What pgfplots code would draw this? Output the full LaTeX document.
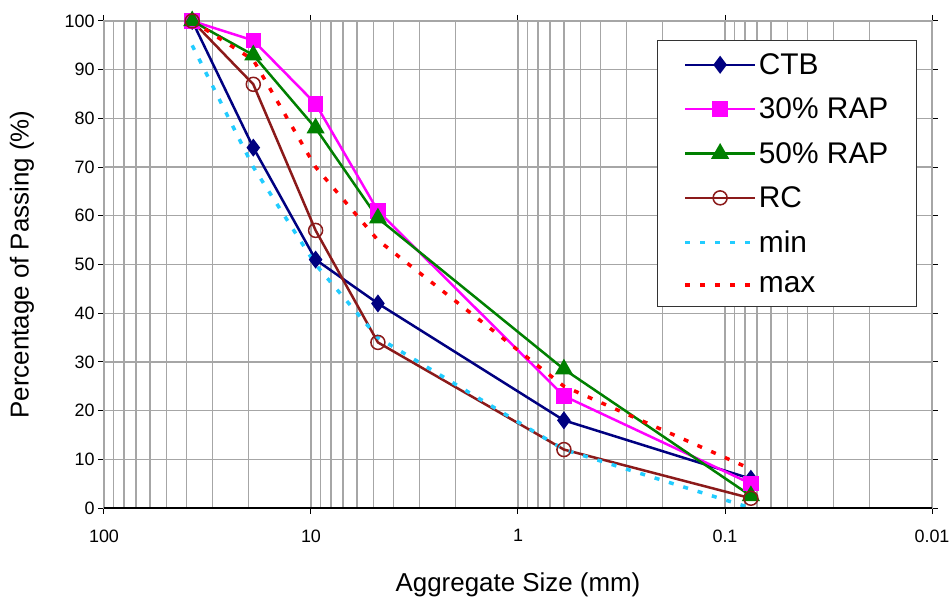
\documentclass[border=0pt]{standalone}
\usepackage{fontspec}
\setmainfont{Liberation Sans}
\usepackage{pgfplots}
\pgfplotsset{compat=1.18}
\definecolor{ctb}{HTML}{000080}
\definecolor{rapa}{HTML}{FF00FF}
\definecolor{rapb}{HTML}{008000}
\definecolor{rc}{HTML}{8B1A1A}
\definecolor{minc}{HTML}{22CCFF}
\definecolor{maxc}{HTML}{FF0000}
\definecolor{gridc}{HTML}{A6A6A6}
\begin{document}
\begin{tikzpicture}
\useasboundingbox (-104bp,-95bp) rectangle (845bp,508bp);
\begin{axis}[
  at={(0bp,0bp)}, anchor=south west,
  scale only axis, width=828bp, height=487bp,
  xmode=log, x dir=reverse,
  xmin=0.01, xmax=100, ymin=0, ymax=100,
  xtick={100,10,1,0.1,0.01},
  xticklabels={100,10,1,0.1,0.01},
  minor xtick={0.02,0.03,0.04,0.05,0.06,0.07,0.08,0.09,0.2,0.3,0.4,0.5,0.6,0.7,0.8,0.9,2,3,4,5,6,7,8,9,20,30,40,50,60,70,80,90},
  ytick={0,10,...,100},
  xmajorgrids, xminorgrids, ymajorgrids,
  major grid style={draw=gridc, line width=1.3bp},
  minor grid style={draw=gridc, line width=1.2bp},
  axis line style={draw=gridc, line width=1.3bp},
  tick align=outside,
  major tick length=6bp, minor tick length=0bp,
  tick style={draw=black, line width=1bp},
  ticklabel style={font=\fontsize{18}{20}\selectfont},
  /pgf/number format/assume math mode=true,
  xticklabel style={yshift=-12bp},
  clip=false,
  legend cell align=left,
  legend style={
    at={(axis description cs:0.982,0.961)}, anchor=north east,
    draw=black!80, line width=1.3bp, fill=white,
    font=\fontsize{30}{34}\selectfont,
    inner xsep=26bp, inner ysep=11bp, row sep=18bp,
  },
  legend image code/.code={
    \draw[mark repeat=2,mark phase=2,#1] plot coordinates {(0bp,0bp)(35bp,0bp)(70bp,0bp)};
  },
]
\addplot[ctb, line width=2.5bp, mark=diamond*, mark size=7bp, mark options={solid, fill=ctb}]
  coordinates {(37.5,100)(19,74)(9.5,51)(4.75,42)(0.6,18)(0.075,6)};
\addlegendentry{CTB}
\addplot[rapa, line width=2.5bp, mark=square*, mark size=6.5bp, mark options={solid, fill=rapa}]
  coordinates {(37.5,100)(19,96)(9.5,83)(4.75,61)(0.6,23)(0.075,5)};
\addlegendentry{30\% RAP}
\addplot[rapb, line width=2.5bp, mark=triangle*, mark size=8bp, mark options={solid, fill=rapb}]
  coordinates {(37.5,100)(19,93)(9.5,78)(4.75,59.5)(0.6,28.5)(0.075,2.5)};
\addlegendentry{50\% RAP}
\addplot[rc, line width=2.5bp, mark=o, mark size=7bp, mark options={solid, line width=1.5bp}]
  coordinates {(37.5,100)(19,87)(9.5,57)(4.75,34)(0.6,12)(0.075,2)};
\addlegendentry{RC}
\addplot[minc, line width=3.5bp, dash pattern=on 5bp off 10bp]
  coordinates {(37.5,95)(19,70)(9.5,50)(4.75,35)(0.6,12)(0.075,0)};
\addlegendentry{min}
\addplot[maxc, line width=3.5bp, dash pattern=on 5bp off 10bp]
  coordinates {(37.5,100)(19,92)(9.5,70)(4.75,55)(0.6,25)(0.075,8)};
\addlegendentry{max}
\end{axis}
\draw[black, line width=2bp] (0bp,0bp) -- (828bp,0bp);
\node[rotate=90, font=\fontsize{26}{30}\selectfont] at (-82bp,243.5bp) {Percentage of Passing (\%)};
\node[font=\fontsize{26}{30}\selectfont] at (414bp,-77bp) {Aggregate Size (mm)};
\end{tikzpicture}
\end{document}
